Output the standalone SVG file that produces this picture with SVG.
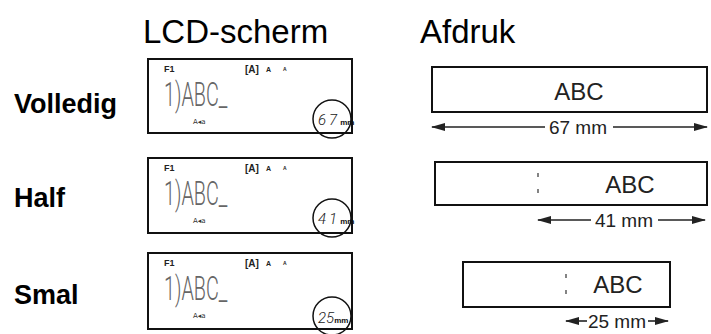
<svg xmlns="http://www.w3.org/2000/svg" width="711" height="334" viewBox="0 0 711 334">
<style>
.title{font-family:"Liberation Sans",Arial,sans-serif;font-size:33px;fill:#000}
.row{font-family:"Liberation Sans",Arial,sans-serif;font-size:27px;font-weight:bold;fill:#000}
.box{fill:#fff;stroke:#111;stroke-width:2}
.circ{fill:none;stroke:#111;stroke-width:1.5}
.f1{font-family:"Liberation Sans",Arial,sans-serif;font-weight:bold;font-size:9px;fill:#222}
.icA{font-family:"Liberation Sans",Arial,sans-serif;font-weight:bold;font-size:10px;fill:#222}
.ic1{font-family:"Liberation Sans",Arial,sans-serif;font-weight:bold;font-size:7px;fill:#222}
.ic2{font-family:"Liberation Sans",Arial,sans-serif;font-weight:bold;font-size:5px;fill:#222}
.lcd{font-family:Roboto,"Liberation Sans",sans-serif;font-weight:300;font-size:33px;fill:#666}
.sm{font-family:"DejaVu Sans",sans-serif;font-size:7px;fill:#333}
.dig{font-family:Roboto,"Liberation Sans",sans-serif;font-weight:300;font-size:15px;fill:#222;font-style:italic}
.mm{font-family:"Liberation Sans",Arial,sans-serif;font-weight:bold;font-size:8px;fill:#111}
.abc{font-family:"Liberation Sans",Arial,sans-serif;font-size:24px;fill:#222}
.dim{font-family:"Liberation Sans",Arial,sans-serif;font-size:19px;fill:#222}
.dl{stroke:#222;stroke-width:1.6;fill:none}
.sep{stroke:#333;stroke-width:1.2;stroke-dasharray:4 12}
</style>
<defs>
<marker id="ah" markerUnits="userSpaceOnUse" markerWidth="14" markerHeight="8" refX="13" refY="4" orient="auto">
<path d="M0,0 L14,4 L0,8 z" fill="#222"/>
</marker>
</defs>
<rect width="711" height="334" fill="#fff"/>
<g id="headers">
<text class="title" x="143" y="43">LCD-scherm</text>
<text class="title" x="420" y="43">Afdruk</text>
</g>
<g id="labels">
<text class="row" x="14" y="113">Volledig</text>
<text class="row" x="14" y="207">Half</text>
<text class="row" x="14" y="304">Smal</text>
</g>
<g id="lcd-volledig">
<rect class="box" x="148" y="59" width="204" height="74"/>
<text class="f1" x="164" y="72">F1</text>
<text class="icA" x="245" y="73">[A]</text>
<text class="ic1" x="266" y="72">A</text>
<text class="ic2" x="283" y="71">A</text>
<text class="lcd" transform="translate(164 106) scale(0.6 1)">1)ABC_</text>
<text class="sm" x="193" y="124">A◂a</text>
<circle class="circ" cx="332" cy="119" r="19"/>
<text x="318" y="125"><tspan class="dig" letter-spacing="3">67</tspan><tspan class="mm">mm</tspan></text>
</g>
<g id="lcd-half">
<rect class="box" x="148" y="158" width="204" height="75"/>
<text class="f1" x="164" y="171">F1</text>
<text class="icA" x="245" y="172">[A]</text>
<text class="ic1" x="266" y="171">A</text>
<text class="ic2" x="283" y="170">A</text>
<text class="lcd" transform="translate(164 205) scale(0.6 1)">1)ABC_</text>
<text class="sm" x="193" y="223">A◂a</text>
<circle class="circ" cx="332" cy="218" r="19"/>
<text x="318" y="224"><tspan class="dig" letter-spacing="3">41</tspan><tspan class="mm">mm</tspan></text>
</g>
<g id="lcd-smal">
<rect class="box" x="148" y="253" width="204" height="76"/>
<text class="f1" x="164" y="266">F1</text>
<text class="icA" x="245" y="267">[A]</text>
<text class="ic1" x="266" y="266">A</text>
<text class="ic2" x="283" y="265">A</text>
<text class="lcd" transform="translate(164 300) scale(0.6 1)">1)ABC_</text>
<text class="sm" x="193" y="318">A◂a</text>
<circle class="circ" cx="332" cy="316" r="19"/>
<text x="318" y="323"><tspan class="dig">25</tspan><tspan class="mm">mm</tspan></text>
</g>
<g id="print-volledig">
<rect class="box" x="432" y="67" width="275" height="45"/>
<text class="abc" x="579" y="100" text-anchor="middle">ABC</text>
</g>
<g id="print-half">
<rect class="box" x="435" y="162" width="272" height="43"/>
<line class="sep" x1="538" y1="173" x2="538" y2="194"/>
<text class="abc" x="630" y="193" text-anchor="middle">ABC</text>
</g>
<g id="print-smal">
<rect class="box" x="463" y="262" width="207" height="45"/>
<line class="sep" x1="566" y1="274" x2="566" y2="295"/>
<text class="abc" x="618" y="293" text-anchor="middle">ABC</text>
</g>
<g id="connectors">
<line class="dl" x1="545" y1="127" x2="432" y2="127" marker-end="url(#ah)"/>
<line class="dl" x1="613" y1="127" x2="707" y2="127" marker-end="url(#ah)"/>
<text class="dim" x="578" y="134" text-anchor="middle">67 mm</text>
<line class="dl" x1="591" y1="220" x2="538" y2="220" marker-end="url(#ah)"/>
<line class="dl" x1="658" y1="220" x2="705" y2="220" marker-end="url(#ah)"/>
<text class="dim" x="624" y="227" text-anchor="middle">41 mm</text>
<line class="dl" x1="587" y1="321" x2="566" y2="321" marker-end="url(#ah)"/>
<line class="dl" x1="648" y1="321" x2="668" y2="321" marker-end="url(#ah)"/>
<text class="dim" x="617" y="328" text-anchor="middle">25 mm</text>
</g>
</svg>
